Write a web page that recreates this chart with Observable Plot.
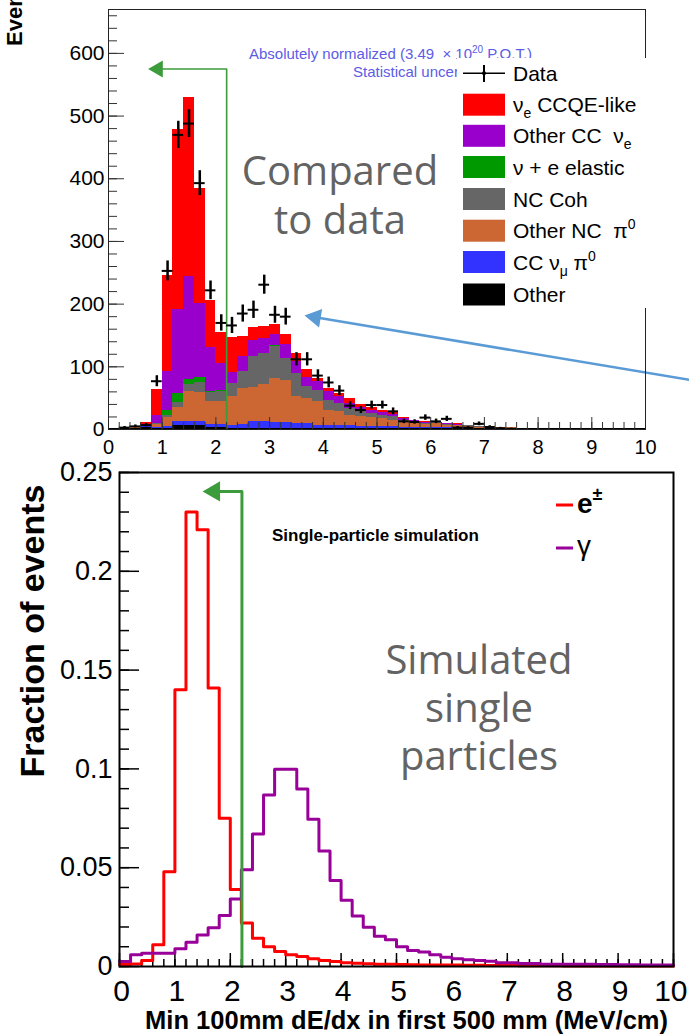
<!DOCTYPE html>
<html><head><meta charset="utf-8">
<script src="https://cdn.jsdelivr.net/npm/d3@7"></script>
<script src="https://cdn.jsdelivr.net/npm/@observablehq/plot@0.6"></script>
<style>
html,body{margin:0;padding:0;background:#fff}
#page{position:relative;width:689px;height:1036px;overflow:hidden;background:#fff}
#topChart{position:absolute;left:0;top:0}
#botChart{position:absolute;left:0;top:455px}
#overlay{position:absolute;left:0;top:0;pointer-events:none}
svg{display:block}
#overlay text{white-space:pre}
</style></head><body>
<div id="page"><div id="topChart"></div><div id="botChart"></div><svg id="overlay" width="689" height="1036"></svg></div>
<script>
// ================= DATA =================
const binLow = [0,0.2,0.4,0.6,0.8,1,1.2,1.4,1.6,1.8,2,2.2,2.4,2.6,2.8,3,3.2,3.4,3.6,3.8,4,4.2,4.4,4.6,4.8,5,5.2,5.4,5.6,5.8,6,6.2,6.4,6.6,6.8,7,7.2,7.4,7.6,7.8,8,8.2,8.4,8.6,8.8,9,9.2,9.4,9.6,9.8];
const binWidth = 0.2;

// top panel: stacked MC components (events per bin), bottom to top
const compNames  = ["Other","CC νμ π0","Other NC π0","NC Coh","ν + e elastic","Other CC νe","νe CCQE-like"];
const compColors = ["#000000","#3333ff","#cc6633","#666666","#009900","#9900cc","#ff0000"];
const otherEvents      = [1,2,2,3,1,2,7,7,6,3,3,2,2,2,2,2,2,2,2,2,2,2,2,2,2,2,2,2,2,2,2,2,2,2,2,3,2,2,2,2,1,2,1,2,2,2,1,2,1,2];
const ccNumuPi0Events  = [0,0,0,1,2,3,6,6,7,5,5,5,6,11,11,9,9,8,7,5,4,4,4,3,3,2,2,1,1,1,1,1,1,1,0,0,0,0,0,0,0,0,0,0,0,0,0,0,0,0];
const otherNcPi0Events = [0,1,1,2,5,14,22,48,46,36,37,45,58,54,58,71,67,43,41,38,24,22,17,15,14,13,11,9,7,5,6,4,3,2,1,1,1,1,0,0,0,0,1,0,0,0,0,0,0,0];
const ncCohEvents      = [0,0,0,0,1,4,8,10,16,15,16,22,26,50,50,51,36,37,19,18,17,14,11,9,7,6,5,3,2,2,2,1,1,1,1,0,0,0,0,0,0,0,0,0,0,0,0,0,0,0];
const nueElasticEvents = [0,0,0,0,1,7,14,8,8,2,1,0,0,0,0,1,0,0,0,0,0,0,0,0,0,0,0,0,0,0,0,0,0,0,0,0,0,0,0,0,0,0,0,0,0,0,0,0,0,0];
const otherCcNueEvents = [0,0,1,2,13,62,134,165,118,70,44,17,24,25,24,17,22,18,14,14,13,11,8,6,5,4,4,2,2,1,1,1,1,1,1,1,0,0,0,0,1,0,0,0,0,0,0,0,1,0];
const nueCcqeEvents    = [0,0,1,3,41,153,287,286,183,75,49,55,32,21,19,16,16,13,12,5,6,5,7,5,4,4,3,2,1,1,1,1,1,0,0,0,0,0,0,0,0,0,0,0,0,0,0,0,0,0];
const dataEvents       = [0,3,5,7,77,253,470,488,393,222,170,166,185,191,231,183,180,112,112,86,75,62,38,31,39,39,29,13,12,19,13,17,3,3,9,4,2,1,0,0,0,0,0,0,0,0,0,0,0,0];

// bottom panel: single-particle fractions per bin
const electronFraction = [0.001,0.0013,0.003,0.011,0.048,0.140,0.230,0.221,0.141,0.075,0.039,0.022,0.0143,0.010,0.0076,0.006,0.005,0.0039,0.003,0.0025,0.0019,0.0016,0.0014,0.0012,0.0011,0.001,0.0009,0.0008,0.0008,0.0007,0.0007,0.0006,0.0006,0.0005,0.0005,0.0005,0.0004,0.0004,0.0004,0.0004,0.0003,0.0003,0.0003,0.0003,0.0003,0.0002,0.0002,0.0002,0.0002,0.0002];
const gammaFraction    = [0.0025,0.006,0.0067,0.0067,0.0067,0.009,0.0123,0.016,0.0196,0.0258,0.0342,0.049,0.067,0.0868,0.0998,0.0998,0.0898,0.0745,0.0585,0.0435,0.0335,0.0255,0.0199,0.0153,0.0136,0.0100,0.0081,0.0073,0.0060,0.0047,0.0039,0.0034,0.0030,0.0027,0.0019,0.0019,0.0015,0.0015,0.0012,0.0012,0.0012,0.0011,0.0011,0.0010,0.0010,0.0009,0.0009,0.0008,0.0008,0.0008];

// annotations (data coordinates)
const cutTopPath   = [{x:2.2,y:0},{x:2.2,y:575},{x:0.92,y:575}];
const cutTopHead   = [{x:0.92,y:575}];
const blueArrowPath= [{x:3.85,y:179},{x:10.9,y:78}];
const blueArrowHead= [{x:3.85,y:179}];
const cutBotPath   = [{x:2.21,y:0},{x:2.21,y:0.2404},{x:1.71,y:0.2404}];
const cutBotHead   = [{x:1.71,y:0.2404}];

// ticks / tick labels
const topYMajor = [0,100,200,300,400,500,600];
const topYMinor = d3.range(0, 661, 20);
const xMajor = [0,1,2,3,4,5,6,7,8,9,10];
const xMinor = d3.range(0, 10.01, 0.2);
const botXLabelsInner = [0,1,2,3,4,5,6,7,8,9];
const botXLabelLast = [10];
const botYMajor = [0,0.05,0.1,0.15,0.2,0.25];
const botYLabels = ["0","0.05","0.1","0.15","0.2","0.25"];
const botYMinor = d3.range(0, 0.2501, 0.01);

// ================= BUILD =================
const SANS = "'Liberation Sans', Arial, Helvetica, sans-serif";
const GREEN = "#3c9c3c";
const compVals = [otherEvents, ccNumuPi0Events, otherNcPi0Events, ncCohEvents, nueElasticEvents, otherCcNueEvents, nueCcqeEvents];
const stackRows = [];
binLow.forEach((x, i) => compNames.forEach((c, k) => stackRows.push({x1: x, x2: x + binWidth, comp: c, v: compVals[k][i]})));
const dataRows = binLow.map((x, i) => ({x1: x, x2: x + binWidth, xc: x + binWidth / 2, n: dataEvents[i],
  lo: dataEvents[i] - Math.sqrt(dataEvents[i]), hi: dataEvents[i] + Math.sqrt(dataEvents[i])})).filter(d => d.n > 0);
const steps = arr => binLow.map((x, i) => ({x, y: arr[i]})).concat([{x: 10, y: arr[arr.length - 1]}]);

const T = {W: 689, H: 455, mt: 9, mb: 26, ml: 108, mr: 44};
const tpw = T.W - T.ml - T.mr, tph = T.H - T.mt - T.mb;
const topPlot = Plot.plot({
  width: T.W, height: T.H, marginTop: T.mt, marginBottom: T.mb, marginLeft: T.ml, marginRight: T.mr,
  x: {domain: [0, 10], axis: null},
  y: {domain: [0, 670], axis: null},
  color: {domain: compNames, range: compColors},
  style: {fontFamily: SANS, background: "transparent", overflow: "visible"},
  marks: [
    Plot.rectY(stackRows, {x1: "x1", x2: "x2", y: "v", fill: "comp", shapeRendering: "crispEdges"}),
    Plot.line(cutTopPath, {x: "x", y: "y", stroke: GREEN, strokeWidth: 1.6}),
    Plot.dot(cutTopHead, {x: "x", y: "y", symbol: "triangle", r: 6.3, fill: GREEN, rotate: -90}),
    Plot.ruleY(dataRows, {x1: "x1", x2: "x2", y: "n", stroke: "#000", strokeWidth: 2}),
    Plot.ruleX(dataRows, {x: "xc", y1: "lo", y2: "hi", stroke: "#000", strokeWidth: 2.5}),
    Plot.line(blueArrowPath, {x: "x", y: "y", stroke: "#5b9bd5", strokeWidth: 2.5}),
    Plot.dot(blueArrowHead, {x: "x", y: "y", symbol: "triangle", r: 7, fill: "#5b9bd5", rotate: -80.6}),
    Plot.tickY(topYMinor, {y: d => d, insetRight: tpw - 9, stroke: "#333"}),
    Plot.tickY(topYMajor, {y: d => d, insetRight: tpw - 16, stroke: "#333"}),
    Plot.tickX(xMinor, {x: d => d, insetTop: tph - 7, stroke: "#333"}),
    Plot.tickX(xMajor, {x: d => d, insetTop: tph - 12, stroke: "#333"}),
    Plot.frame({stroke: "#222"}),
    Plot.text(topYMajor, {x: () => 0, y: d => d, text: d => String(d), textAnchor: "end", dx: -4, fontSize: 21, fill: "#000"}),
    Plot.text(xMajor, {x: d => d, y: () => 0, text: d => String(d), dy: 18, fontSize: 20, fill: "#000"})
  ]
});
document.getElementById("topChart").appendChild(topPlot);

const B = {W: 689, H: 581, mt: 17, mb: 70, ml: 119, mr: 16};
const bpw = B.W - B.ml - B.mr, bph = B.H - B.mt - B.mb;
const botPlot = Plot.plot({
  width: B.W, height: B.H, marginTop: B.mt, marginBottom: B.mb, marginLeft: B.ml, marginRight: B.mr,
  x: {domain: [0, 10], axis: null},
  y: {domain: [0, 0.25], axis: null},
  style: {fontFamily: SANS, background: "transparent", overflow: "visible"},
  marks: [
    Plot.tickY(botYMinor, {y: d => d, insetRight: bpw - 10, stroke: "#000", strokeWidth: 1.5}),
    Plot.tickY(botYMajor, {y: d => d, insetRight: bpw - 20, stroke: "#000", strokeWidth: 1.5}),
    Plot.tickX(xMinor, {x: d => d, insetTop: bph - 7, stroke: "#000", strokeWidth: 1.5}),
    Plot.tickX(xMajor, {x: d => d, insetTop: bph - 13, stroke: "#000", strokeWidth: 1.5}),
    Plot.line(steps(electronFraction), {x: "x", y: "y", curve: "step-after", stroke: "#ff0000", strokeWidth: 3}),
    Plot.line(steps(gammaFraction), {x: "x", y: "y", curve: "step-after", stroke: "#990099", strokeWidth: 3}),
    Plot.line(cutBotPath, {x: "x", y: "y", stroke: GREEN, strokeWidth: 3}),
    Plot.dot(cutBotHead, {x: "x", y: "y", symbol: "triangle", r: 7.5, fill: GREEN, rotate: -90}),
    Plot.frame({stroke: "#000", strokeWidth: 2}),
    Plot.text(botYMajor, {x: () => 0, y: d => d, text: (d, i) => botYLabels[i], textAnchor: "end", dx: -7, fontSize: 27, fill: "#000"}),
    Plot.text(botXLabelsInner, {x: d => d, y: () => 0, text: d => String(d), dx: 2, dy: 25, fontSize: 30, fill: "#000"}),
    Plot.text(botXLabelLast, {x: d => d, y: () => 0, text: d => String(d), textAnchor: "end", dx: 14, dy: 25, fontSize: 30, fill: "#000"})
  ]
});
document.getElementById("botChart").appendChild(botPlot);

// ================= OVERLAY TEXT / LEGENDS =================
const ov = d3.select("#overlay");
function addText(x, y, parts, attrs) {
  const t = ov.append("text").attr("x", x).attr("y", y).attr("font-family", SANS);
  for (const [k, v] of Object.entries(attrs || {})) t.attr(k, v);
  (Array.isArray(parts) ? parts : [{t: parts}]).forEach(p => {
    const s = t.append("tspan").text(typeof p === "string" ? p : p.t);
    if (p.dy) s.attr("dy", p.dy);
    if (p.fs) s.attr("font-size", p.fs);
  });
  return t;
}
// normalization note (partly hidden by legend box)
addText(249, 58.5, ["Absolutely normalized (3.49  × 10", {t: "20", dy: -6, fs: 10}, {t: " P.O.T.)", dy: 6}], {"font-size": 15, fill: "#5c5ce6"});
addText(353, 77, "Statistical uncertainty", {"font-size": 15, fill: "#5c5ce6"});

// top legend
ov.append("rect").attr("x", 457).attr("y", 58).attr("width", 240).attr("height", 250).attr("fill", "#fff");
const legRows = [104.7, 135.8, 167, 199, 230.7, 262, 294.5];
const legLabels = [
  ["ν", {t: "e", dy: 6, fs: 14}, {t: " CCQE-like", dy: -6}],
  ["Other CC  ν", {t: "e", dy: 6, fs: 14}],
  ["ν + e elastic"],
  ["NC Coh"],
  ["Other NC  π", {t: "0", dy: -9, fs: 14}],
  ["CC ν", {t: "μ", dy: 6, fs: 14}, {t: " π", dy: -6}, {t: "0", dy: -9, fs: 14}],
  ["Other"]
];
const legColors = compColors.slice().reverse();
legRows.forEach((cy, i) => {
  ov.append("rect").attr("x", 463).attr("y", cy - 11).attr("width", 42).attr("height", 22).attr("fill", legColors[i]);
  addText(513, cy + 7.5, legLabels[i], {"font-size": 21, fill: "#000"});
});
ov.append("line").attr("x1", 463).attr("x2", 505).attr("y1", 73.3).attr("y2", 73.3).attr("stroke", "#000").attr("stroke-width", 1.5);
ov.append("line").attr("x1", 484).attr("x2", 484).attr("y1", 65).attr("y2", 82).attr("stroke", "#000").attr("stroke-width", 2);
ov.append("circle").attr("cx", 484).attr("cy", 73.3).attr("r", 2).attr("fill", "#000");
addText(513, 81, "Data", {"font-size": 21, fill: "#000"});

// y title of top panel (cut at the top of the picture)
addText(22, 46, "Events", {"font-size": 22, "font-weight": "bold", transform: "rotate(-90 22 46)"});

// big grey captions
const CAP = "'Open Sans', 'Noto Sans', sans-serif";
[["Compared", 340, 185], ["to data", 340, 234]].forEach(([s, x, y]) => addText(x, y, s, {"font-size": 40, fill: "#636363", "text-anchor": "middle", "font-family": CAP}));
[["Simulated", 479, 674], ["single", 479, 722], ["particles", 479, 770]].forEach(([s, x, y]) => addText(x, y, s, {"font-size": 40, fill: "#636363", "text-anchor": "middle", "font-family": CAP}));

// bottom panel texts
addText(272, 541, "Single-particle simulation", {"font-size": 17, "font-weight": "bold", fill: "#000"});
ov.append("line").attr("x1", 556).attr("x2", 573).attr("y1", 505).attr("y2", 505).attr("stroke", "#ff0000").attr("stroke-width", 3);
addText(577, 513, ["e", {t: "±", dy: -13, fs: 18}], {"font-size": 28, "font-weight": "bold", fill: "#000"});
ov.append("line").attr("x1", 556).attr("x2", 573).attr("y1", 548).attr("y2", 548).attr("stroke", "#990099").attr("stroke-width", 3);
addText(577, 555, "γ", {"font-size": 28, fill: "#000"});
addText(44, 631, "Fraction of events", {"font-size": 34, "font-weight": "bold", "text-anchor": "middle", transform: "rotate(-90 44 631)"});
addText(668, 1029, "Min 100mm dE/dx in first 500 mm (MeV/cm)", {"font-size": 25.5, "font-weight": "bold", "text-anchor": "end"});
</script></body></html>
